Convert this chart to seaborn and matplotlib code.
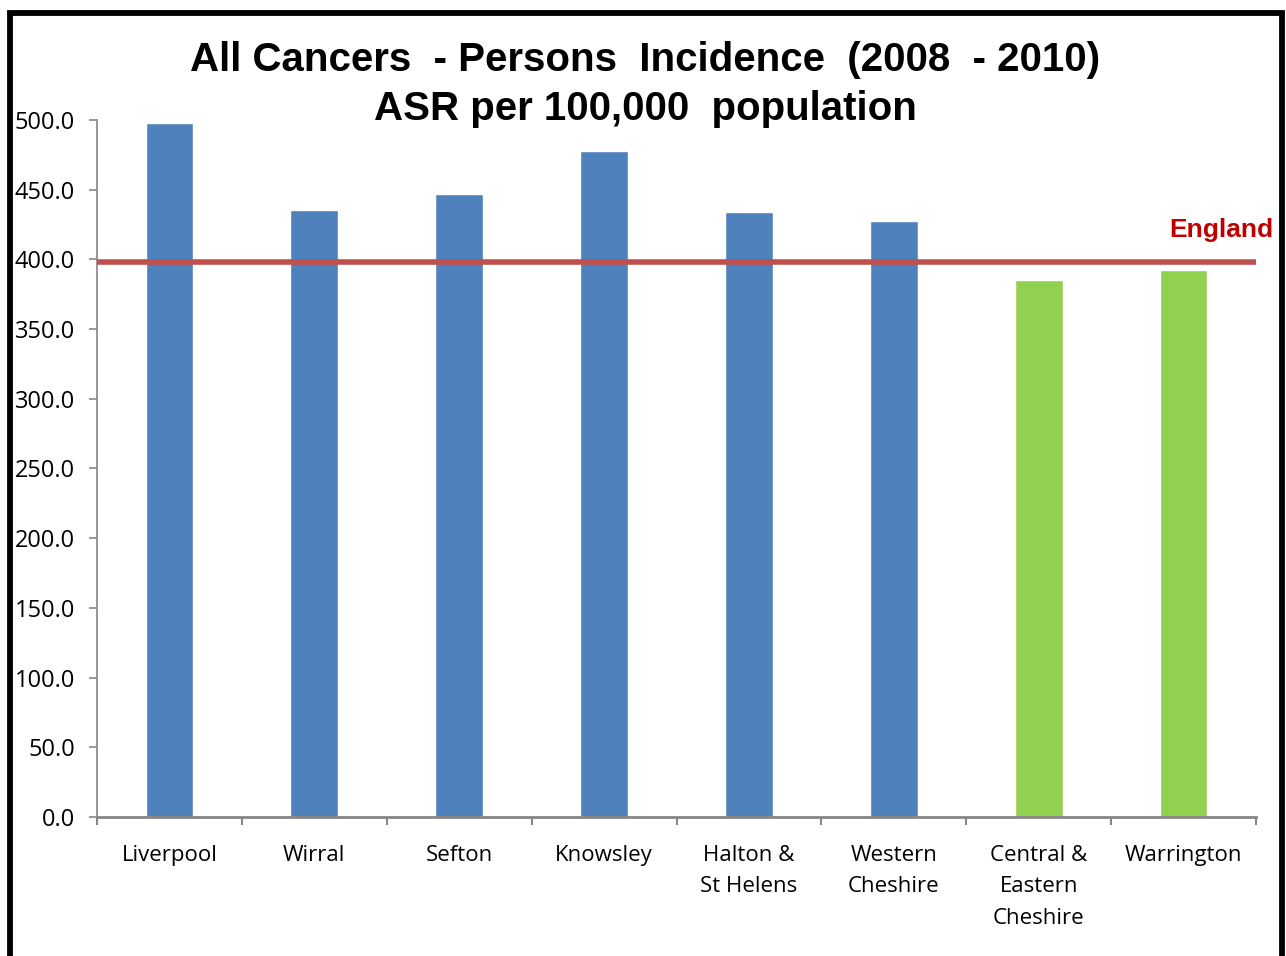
import numpy as np
import pandas as pd
import seaborn as sns
import matplotlib.pyplot as plt
from matplotlib.lines import Line2D

areas = ['Liverpool', 'Wirral', 'Sefton', 'Knowsley', 'Halton &\nSt Helens',
         'Western\nCheshire', 'Central &\nEastern\nCheshire', 'Warrington']
asr = [498.0, 435.4, 446.9, 477.8, 434.0, 427.5, 385.2, 392.4]
colours = ['#4F81BD'] * 6 + ['#92D050'] * 2
england = 398.0

df = pd.DataFrame({'area': areas, 'asr': asr})

sns.set_style('white')
plt.rcParams['font.family'] = ['Open Sans', 'DejaVu Sans']
plt.rcParams['text.color'] = 'black'

fig = plt.figure(figsize=(12.86, 9.56), dpi=100)
ax = fig.add_axes([97 / 1286, 1 - 817 / 956, 1159 / 1286, 697 / 956])

sns.barplot(data=df, x='area', y='asr', hue='area', palette=colours,
            legend=False, width=0.33, saturation=1, ax=ax)

ax.axhline(england, color='#C0504D', lw=4, zorder=5)
ax.text(1.0147, england + 23, 'England', transform=ax.get_yaxis_transform(),
        ha='right', va='center', color='#C00000', fontsize=19,
        fontweight='bold', family='Liberation Sans', clip_on=False)

ax.set_xlim(-0.5, 7.5)
ax.set_ylim(0, 500)
ax.set_yticks(np.arange(0, 501, 50))
ax.set_yticklabels([f'{v:.1f}' for v in np.arange(0, 501, 50)], fontsize=17)
ax.set_xticks(range(8))
ax.set_xticklabels(areas, fontsize=16, linespacing=1.65)
ax.set_xticks(np.arange(-0.5, 8, 1), minor=True)
ax.tick_params(axis='x', which='major', bottom=False, length=0, pad=20,
               labelcolor='black')
ax.tick_params(axis='x', which='minor', bottom=True, length=6,
               color='#868686', width=1.5, direction='out')
ax.tick_params(axis='y', left=True, length=6, color='#868686', width=1.2,
               direction='out', pad=10, labelcolor='black')
ax.set_xlabel('')
ax.set_ylabel('')

for s in ['top', 'right']:
    ax.spines[s].set_visible(False)
ax.spines['left'].set_color('#868686')
ax.spines['bottom'].set_color('#868686')
ax.spines['bottom'].set_linewidth(2)
ax.spines['left'].set_linewidth(1.2)

fig.text(0.5016, 1 - 60 / 956, 'All Cancers  - Persons  Incidence  (2008  - 2010)',
         ha='center', va='center', fontsize=29, fontweight='bold',
         family='Liberation Sans', color='black')
fig.text(0.5016, 1 - 109 / 956, 'ASR per 100,000  population',
         ha='center', va='center', fontsize=29, fontweight='bold',
         family='Liberation Sans', color='black')

# outer frame (cut off at the bottom)
fw, fh = 1286, 956
frame = Line2D([9.5 / fw, 9.5 / fw, 1282 / fw, 1282 / fw],
               [-0.1, 1 - 13 / fh, 1 - 13 / fh, -0.1],
               transform=fig.transFigure, color='black', lw=4.2,
               solid_joinstyle='miter')
fig.add_artist(frame)

fig.savefig('out.png', dpi=100)
